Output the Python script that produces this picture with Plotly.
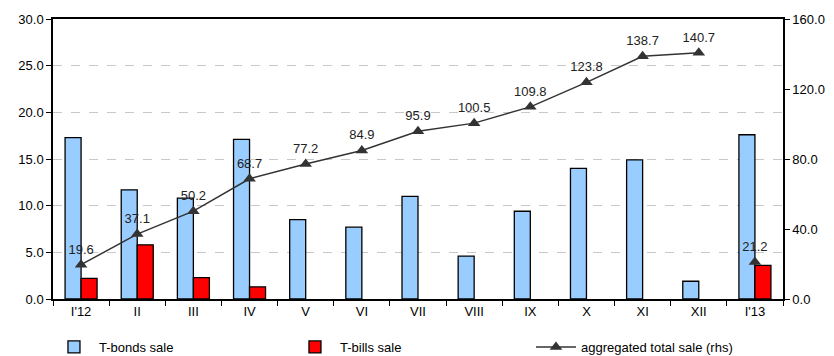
import plotly.graph_objects as go

categories = ["I'12", "II", "III", "IV", "V", "VI", "VII", "VIII", "IX", "X", "XI", "XII", "I'13"]
tbonds = [17.3, 11.7, 10.8, 17.1, 8.5, 7.7, 11.0, 4.6, 9.4, 14.0, 14.9, 1.9, 17.6]
tbills = [2.2, 5.8, 2.3, 1.3, 0, 0, 0, 0, 0, 0, 0, 0, 3.6]
total = [19.6, 37.1, 50.2, 68.7, 77.2, 84.9, 95.9, 100.5, 109.8, 123.8, 138.7, 140.7, 21.2]
left_ticks = [0, 5, 10, 15, 20, 25, 30]
right_ticks = [0, 40, 80, 120, 160]

font = "Liberation Sans, Arial, sans-serif"
fig = go.Figure()
fig.add_trace(go.Bar(x=categories, y=tbonds, name="T-bonds sale",
                     marker=dict(color="#99ccff", line=dict(color="#000000", width=1.3))))
fig.add_trace(go.Bar(x=categories, y=[v if v else None for v in tbills], name="T-bills sale",
                     marker=dict(color="#ff0000", line=dict(color="#000000", width=1.3))))
fig.add_trace(go.Scatter(x=categories[:12], y=total[:12], name="aggregated total sale (rhs)",
                         yaxis="y2", mode="lines+markers+text",
                         line=dict(color="#333333", width=1.5),
                         marker=dict(symbol="triangle-up", size=11, color="#333333"),
                         text=[f"{v:.1f}" for v in total[:12]], textposition="top center",
                         textfont=dict(size=13, color="#222222", family=font)))
fig.add_trace(go.Scatter(x=categories[12:], y=total[12:], showlegend=False,
                         yaxis="y2", mode="markers+text",
                         marker=dict(symbol="triangle-up", size=11, color="#333333"),
                         text=[f"{v:.1f}" for v in total[12:]], textposition="top center",
                         textfont=dict(size=13, color="#222222", family=font)))

# page body has an 8px default margin, so the figure is shrunk and margins offset by 8px
fig.update_layout(
    width=826, height=348,
    margin=dict(l=45, r=51, t=11, b=57),
    plot_bgcolor="white", paper_bgcolor="white",
    font=dict(family=font, size=13, color="#000000"),
    barmode="group", bargap=0.43, bargroupgap=0,
    showlegend=True,
    legend=dict(orientation="h", xref="container", x=0.0496, xanchor="left",
                yref="container", y=0.069, yanchor="top",
                entrywidth=186, font=dict(size=13), itemwidth=40,
                traceorder="normal", bgcolor="rgba(0,0,0,0)"),
    xaxis=dict(type="category", range=[-0.5, len(categories) - 0.5],
               showline=True, linecolor="#000000", linewidth=1.5,
               mirror=True, ticks="outside", tickson="boundaries", ticklen=5,
               tickcolor="#000000", showgrid=False, automargin=False),
    yaxis=dict(range=[0, 30], tickvals=left_ticks, tickformat=".1f",
               showline=True, linecolor="#000000", linewidth=1.5,
               ticks="outside", ticklen=5, tickcolor="#000000",
               showgrid=True, gridcolor="#c8c8c8", griddash="dash", gridwidth=1,
               zeroline=False, automargin=False),
    yaxis2=dict(range=[0, 160], tickvals=right_ticks, tickformat=".1f",
                overlaying="y", side="right",
                showline=True, linecolor="#000000", linewidth=1.5,
                ticks="outside", ticklen=5, tickcolor="#000000",
                showgrid=False, zeroline=False, automargin=False),
)

fig.write_html("out.html")
